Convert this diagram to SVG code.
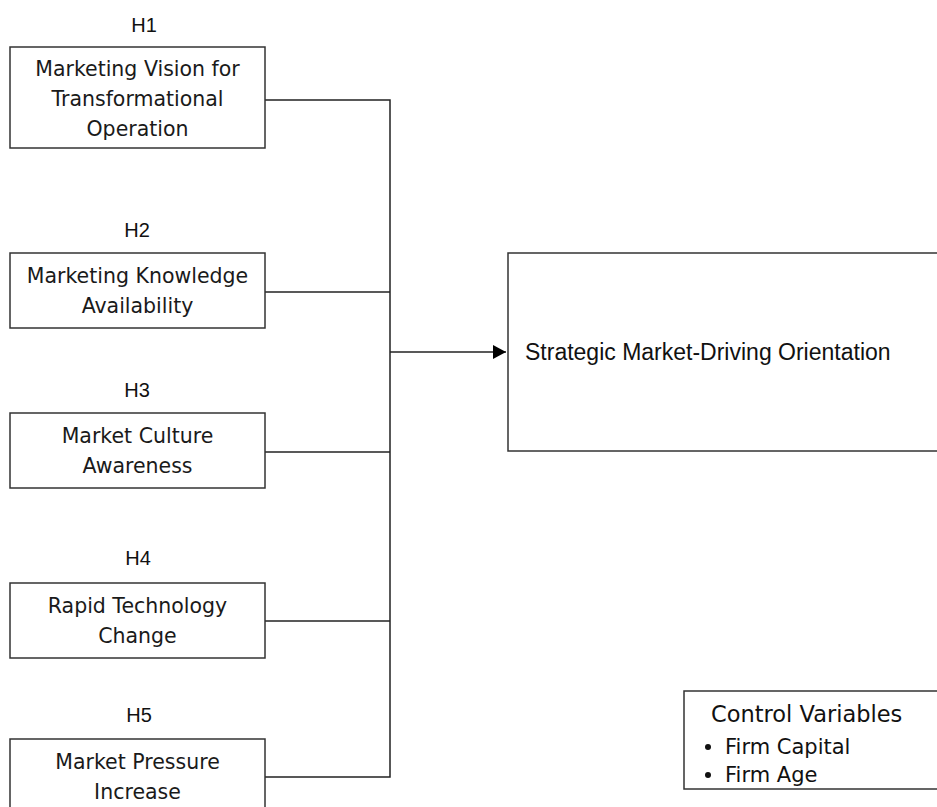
<svg xmlns="http://www.w3.org/2000/svg" width="937" height="807" viewBox="0 0 937 807">
<defs>
<style>
.box{fill:#fff;stroke:#333;stroke-width:1.5}
.lbl{font-family:"DejaVu Sans",sans-serif;font-size:20.5px;fill:#1a1a1a;text-anchor:middle}
.h{font-family:"Liberation Sans",Arial,sans-serif;font-size:20px;fill:#111;text-anchor:middle}
.big{font-family:"Liberation Sans",Arial,sans-serif;font-size:23px;fill:#111}
.cv{font-family:"DejaVu Sans",sans-serif;font-size:21px;fill:#111}
.conn{fill:none;stroke:#222;stroke-width:1.5}
</style>
<marker id="arr" markerWidth="14" markerHeight="14" refX="13" refY="7" orient="auto" markerUnits="userSpaceOnUse">
<path d="M0,0 L13,7 L0,14 Z" fill="#000"/>
</marker>
</defs>
<rect width="937" height="807" fill="#fff"/>
<g id="connectors">
<path class="conn" d="M265,100 H390 V777 H265"/>
<path class="conn" d="M265,292 H390"/>
<path class="conn" d="M265,452 H390"/>
<path class="conn" d="M265,621 H390"/>
<path class="conn" d="M390,352 H506" marker-end="url(#arr)"/>
</g>
<g id="h1">
<text class="h" x="144" y="32">H1</text>
<rect class="box" x="10" y="47" width="255" height="101"/>
<text class="lbl" x="137.5" y="76">Marketing Vision for</text>
<text class="lbl" x="137.5" y="106">Transformational</text>
<text class="lbl" x="137.5" y="136">Operation</text>
</g>
<g id="h2">
<text class="h" x="137" y="237">H2</text>
<rect class="box" x="10" y="253" width="255" height="75"/>
<text class="lbl" x="137.5" y="283">Marketing Knowledge</text>
<text class="lbl" x="137.5" y="313">Availability</text>
</g>
<g id="h3">
<text class="h" x="137" y="397">H3</text>
<rect class="box" x="10" y="413" width="255" height="75"/>
<text class="lbl" x="137.5" y="443">Market Culture</text>
<text class="lbl" x="137.5" y="473">Awareness</text>
</g>
<g id="h4">
<text class="h" x="138" y="565">H4</text>
<rect class="box" x="10" y="583" width="255" height="75"/>
<text class="lbl" x="137.5" y="613">Rapid Technology</text>
<text class="lbl" x="137.5" y="643">Change</text>
</g>
<g id="h5">
<text class="h" x="139" y="722">H5</text>
<rect class="box" x="10" y="739" width="255" height="80"/>
<text class="lbl" x="137.5" y="769">Market Pressure</text>
<text class="lbl" x="137.5" y="799">Increase</text>
</g>
<g id="outcome">
<rect class="box" x="508" y="253" width="440" height="198"/>
<text class="big" x="525" y="360">Strategic Market-Driving Orientation</text>
</g>
<g id="controls">
<rect class="box" x="684" y="691" width="270" height="98"/>
<text class="cv" x="711" y="722" style="font-size:22.5px">Control Variables</text>
<circle cx="708" cy="747" r="3" fill="#111"/>
<text class="cv" x="725" y="754">Firm Capital</text>
<circle cx="708" cy="775" r="3" fill="#111"/>
<text class="cv" x="725" y="782">Firm Age</text>
</g>
</svg>
